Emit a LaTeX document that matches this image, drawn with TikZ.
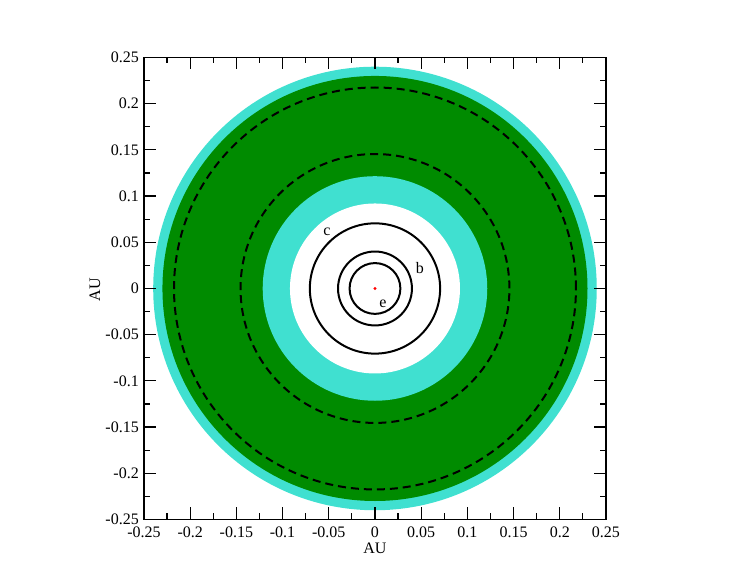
\documentclass[tikz,border=0pt]{standalone}
\usepackage{fontspec}
\setmainfont{Liberation Serif}
\usepackage{xcolor}
\usepackage{tikz}
\definecolor{turq}{RGB}{64,224,208}
\definecolor{diskgreen}{RGB}{0,139,0}

\begin{document}
\begin{tikzpicture}[x=924pt,y=924pt,font=\fontsize{16}{18}\selectfont,
    zone/.style={draw=none},
    orbit/.style={draw=black,line width=2pt},
    limit/.style={draw=black,line width=2pt,dash pattern=on 8pt off 5pt},
    ticklab/.style={inner sep=0pt},
    planet/.style={inner sep=0pt}]
    \useasboundingbox (-0.4058,-0.3133) rectangle (0.4026,0.3122);
    % habitable zones
    \fill[zone,turq] (0,0) circle (0.24);
    \fill[zone,diskgreen] (0,0) circle (0.23);
    \fill[zone,turq] (0,0) circle (0.1215);
    \fill[zone,white] (0,0) circle (0.092);
    % dashed limits
    \draw[limit] (0,0) circle (0.2175);
    \draw[limit] (0,0) circle (0.1455);
    % planet orbits
    \draw[orbit] (0,0) circle (0.0705);
    \draw[orbit] (0,0) circle (0.0400);
    \draw[orbit] (0,0) circle (0.0275);
    \fill[red] (0,0) circle (1.6pt);
    \node[planet] (lc) at (-0.052,0.061) {c};
    \node[planet] (lb) at (0.0487,0.0222) {b};
    \node[planet] (le) at (0.0087,-0.0168) {e};
    % frame and ticks
    \draw[line width=1.5pt] (-0.25,-0.25) rectangle (0.25,0.25);
    \foreach \v [count=\i] in {-0.25,-0.2,-0.15,-0.1,-0.05,0,0.05,0.1,0.15,0.2,0.25} {
      \draw[line width=1.2pt] (\v,-0.25) -- ++(0,12pt) (\v,0.25) -- ++(0,-12pt)
        (-0.25,\v) -- ++(12pt,0) (0.25,\v) -- ++(-12pt,0);
      \node[ticklab,anchor=north] (xt\i) at (\v,-0.25) [yshift=-7pt] {\v};
      \node[ticklab,anchor=east] (yt\i) at (-0.25,\v) [xshift=-5pt] {\v};
    }
    \foreach \v in {-0.225,-0.175,-0.125,-0.075,-0.025,0.025,0.075,0.125,0.175,0.225} {
      \draw[line width=1.2pt] (\v,-0.25) -- ++(0,6pt) (\v,0.25) -- ++(0,-6pt)
        (-0.25,\v) -- ++(6pt,0) (0.25,\v) -- ++(-6pt,0);
    }
    \node[ticklab] (xlabel) at (0,-0.2808) {AU};
    \node[ticklab,rotate=90] (ylabel) at (-0.303,-0.0016) {AU};
\end{tikzpicture}
\end{document}
